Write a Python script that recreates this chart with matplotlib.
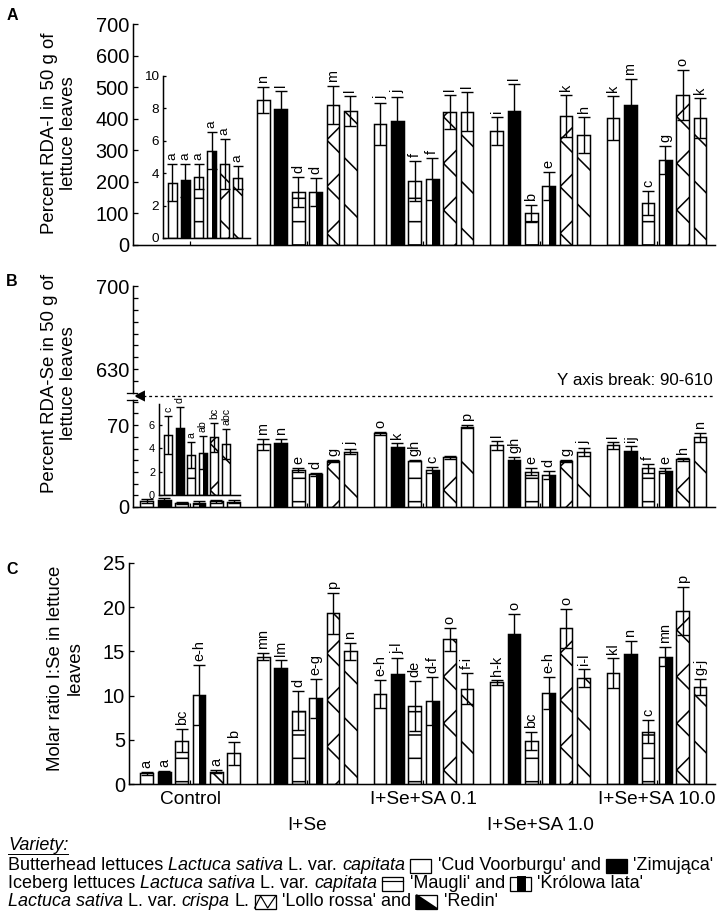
import numpy as np
import matplotlib
matplotlib.use("Agg")
import matplotlib.pyplot as plt
import matplotlib.patches as mpatches
from matplotlib.lines import Line2D

plt.rcParams['font.family'] = ['Liberation Sans', 'DejaVu Sans']
plt.rcParams['hatch.linewidth'] = 0.8

W, H, DPI = 725, 912, 140
P = 72 / DPI  # points per output pixel

treatments = ['Control', 'I+Se', 'I+Se+SA 0.1', 'I+Se+SA 1.0', 'I+Se+SA 10.0']
varieties = ["'Cud Voorburgu'", "'Zimująca'", "'Maugli'", "'Królowa lata'", "'Lollo rossa'", "'Redin'"]

# A: percent RDA-I (rows = treatments, cols = varieties); Control row is shown in the inset
rda_i = [[3.42, 3.55, 3.79, 5.39, 4.57, 3.73],
         [459, 431, 168, 168, 443, 424],
         [383, 392, 202, 208, 422, 422],
         [362, 425, 100, 188, 408, 348],
         [403, 444, 134, 269, 475, 403]]
rda_i_err = [[1.15, 1.02, 0.78, 1.15, 1.53, 0.72],
             [41, 57, 47, 44, 61, 48],
             [67, 77, 63, 66, 53, 62],
             [44, 84, 28, 44, 66, 56],
             [70, 82, 38, 44, 78, 63]]
rda_i_let = [['a', 'a', 'a', 'a', 'a', 'a'],
             ['n', 'l', 'd', 'd', 'm', 'l'],
             ['j', 'j', 'f', 'f', 'l', 'l'],
             ['i', 'l', 'b', 'e', 'k', 'h'],
             ['k', 'm', 'c', 'g', 'o', 'k']]

# B: percent RDA-Se
rda_se = [[5.14, 5.70, 3.43, 3.63, 4.94, 4.34],
          [53.5, 54.6, 31.6, 28.0, 39.3, 47.3],
          [63.0, 51.5, 39.6, 31.6, 42.5, 68.7],
          [52.7, 40.0, 30.2, 27.4, 39.3, 47.3],
          [52.7, 48.1, 33.0, 31.0, 40.7, 59.5]]
rda_se_err = [[1.66, 1.87, 1.14, 1.43, 1.26, 1.29],
              [4.5, 3.6, 1.6, 1.2, 0.8, 2.3],
              [1.4, 3.1, 0.5, 2.4, 1.5, 1.3],
              [4.0, 3.0, 2.8, 3.6, 0.8, 3.4],
              [3.1, 3.9, 3.5, 2.0, 1.3, 4.0]]
rda_se_let = [['c', 'd', 'a', 'ab', 'bc', 'abc'],
              ['m', 'n', 'e', 'd', 'g', 'j'],
              ['o', 'k', 'gh', 'c', '', 'p'],
              ['l', 'gh', 'e', 'd', 'g', 'j'],
              ['l', 'ij', 'f', 'e', 'h', 'n']]

# C: molar ratio I:Se
ratio = [[1.2, 1.4, 4.9, 10.1, 1.4, 3.5],
         [14.4, 13.1, 8.3, 9.7, 19.3, 15.0],
         [10.2, 12.4, 8.8, 9.4, 16.4, 10.8],
         [11.5, 17.0, 4.9, 10.3, 17.6, 12.0],
         [12.6, 14.7, 5.9, 14.4, 19.6, 11.0]]
ratio_err = [[0.15, 0.1, 1.3, 3.4, 0.2, 1.3],
             [0.4, 0.9, 2.2, 2.2, 2.3, 1.0],
             [1.6, 1.9, 2.8, 2.7, 1.3, 1.8],
             [0.3, 2.2, 1.0, 1.8, 2.2, 1.0],
             [1.7, 1.5, 1.3, 1.1, 2.7, 0.9]]
ratio_let = [['a', 'a', 'bc', 'e-h', 'a', 'b'],
             ['mn', 'lm', 'd', 'e-g', 'p', 'n'],
             ['e-h', 'j-l', 'de', 'd-f', 'o', 'f-i'],
             ['h-k', 'o', 'bc', 'e-h', 'o', 'i-l'],
             ['kl', 'n', 'c', 'mn', 'p', 'g-j']]

HATCH = [None, None, '-', None, 'x', '\\']

GAP = 6.7      # group spacing in bar units
UNIT = 17.4    # px per bar unit on the main axes
X0 = 146.8     # px of first bar centre
xs = np.arange(5)[:, None] * GAP + np.arange(6)[None, :]
centers = np.arange(5) * GAP + 2.5

fig = plt.figure(figsize=(W / DPI, H / DPI), dpi=DPI)


def ax_px(left, top, right, bottom):
    return fig.add_axes([left / W, 1 - bottom / H, (right - left) / W, (bottom - top) / H])


def style(ax, tick_px, ylen=5):
    for s in ['top', 'right']:
        ax.spines[s].set_visible(False)
    for s in ['left', 'bottom']:
        ax.spines[s].set_linewidth(1.5 * P)
    ax.set_facecolor('none')
    ax.tick_params(axis='y', which='both', direction='in', length=ylen * P, width=1.3 * P,
                   labelsize=tick_px * P, pad=4 * P)
    ax.tick_params(axis='x', direction='in', length=4 * P, width=1.2 * P)


def draw_bars(ax, x, means, errs, lets, width, cap_px, lab_px, rows):
    means = np.array(means, float)
    errs = np.array(errs, float)
    for j in range(6):
        xx, v, e = x[rows, j], means[rows, j], errs[rows, j]
        ax.bar(xx, v, width, color='black' if j == 1 else 'white', edgecolor='black',
               linewidth=1.5 * P, hatch=HATCH[j], zorder=2)
        if j == 3:
            ax.bar(xx + width / 4, v, width / 2, color='black', edgecolor='black',
                   linewidth=1.0 * P, zorder=2)
        ax.errorbar(xx, v, yerr=e, fmt='none', ecolor='black', elinewidth=1.4 * P,
                    capsize=cap_px * P, capthick=1.4 * P, zorder=3)
        if lets is None:
            continue
        for xi, top, r in zip(xx, v + e, rows):
            lab = lets[r][j]
            if lab:
                ax.annotate(lab, (xi, top), xytext=(0, 4 * P), textcoords='offset points',
                            rotation=90, ha='center', va='bottom', fontsize=lab_px * P)


def main_xlim(ax, left_px, right_px=715):
    ax.set_xlim((left_px - X0) / UNIT, (right_px - X0) / UNIT)
    ax.set_xticks(centers)
    ax.set_xticklabels([])


TICK = 20
all_rows = list(range(5))
treat_rows = [1, 2, 3, 4]

# ---- Panel A
axA = ax_px(133, 24, 715, 245)
style(axA, TICK)
draw_bars(axA, xs, rda_i, rda_i_err, rda_i_let, 0.73, 6.3, 14.5, treat_rows)
axA.set_ylim(0, 700)
axA.set_yticks(range(0, 701, 100))
main_xlim(axA, 133)

insA = ax_px(163, 76, 250, 238)
style(insA, 13.5, ylen=3.5)
xi = np.arange(6)[None, :] * np.ones((5, 1))
draw_bars(insA, xi, rda_i, rda_i_err, rda_i_let, 0.73, 4.7, 13.5, [0])
insA.set_ylim(0, 10)
insA.set_yticks(range(0, 11, 2))
insA.set_xlim(-0.73, 5.96)
insA.set_xticks([])

# ---- Panel B (broken y axis)
lo_top = 91.5
axB = ax_px(133, 400, 715, 507)
style(axB, TICK)
draw_bars(axB, xs, rda_se, rda_se_err, rda_se_let, 0.73, 6.3, 14.5, treat_rows)
draw_bars(axB, xs, rda_se, rda_se_err, None, 0.73, 6.3, 14.5, [0])
axB.set_ylim(0, lo_top)
axB.set_yticks([0, 70])
axB.set_yticks([v for v in range(10, 91, 10) if v != 70], minor=True)
main_xlim(axB, 133)

axB2 = ax_px(133, 286, 715, 393)
style(axB2, TICK)
axB2.spines['bottom'].set_visible(False)
axB2.set_ylim(610, 700)
axB2.set_yticks([630, 700])
axB2.set_yticks([v for v in range(620, 700, 10) if v != 630], minor=True)
axB2.set_xlim(axB.get_xlim())
axB2.set_xticks([])

insB = ax_px(159, 404, 240, 495)
style(insB, 11, ylen=3)
draw_bars(insB, xi, rda_se, rda_se_err, rda_se_let, 0.69, 4.0, 10.5, [0])
insB.set_ylim(0, 7.8)
insB.set_yticks([0, 2, 4, 6])
insB.set_xlim(-0.78, 6.2)
insB.set_xticks([])


def fig_line(xp, yp, **kw):
    fig.add_artist(Line2D([x / W for x in xp], [1 - y / H for y in yp],
                          transform=fig.transFigure, color='black', **kw))


# break marks
fig_line([127, 137], [393, 393], lw=1.3 * P)
fig_line([127, 137], [400, 400], lw=1.3 * P)
fig_line([140], [396.5], marker='<', markersize=8 * P, lw=0)
fig_line([143, 715], [396.5], lw=1.3 * P, ls=(0, (2.2, 2.2)))
fig.text(713 / W, 1 - 380 / H, 'Y axis break: 90-610', ha='right', va='center', fontsize=17 * P)

# ---- Panel C
axC = ax_px(129, 563, 715, 784)
style(axC, TICK)
draw_bars(axC, xs, ratio, ratio_err, ratio_let, 0.73, 6.3, 14.5, all_rows)
axC.set_ylim(0, 25)
axC.set_yticks(range(0, 26, 5))
main_xlim(axC, 129)
axC.set_xticklabels(treatments, fontsize=19 * P)
for k, t in enumerate(axC.xaxis.get_major_ticks()):
    t.set_pad((7 if k % 2 == 0 else 33) * P)

# ---- y labels and panel letters
ylab = 18.6 * P
fig.text(59 / W, 1 - 133 / H, 'Percent RDA-I in 50 g of\nlettuce leaves', rotation=90,
         ha='center', va='center', fontsize=ylab, multialignment='center')
fig.text(59 / W, 1 - 383 / H, 'Percent RDA-Se in 50 g of\nlettuce leaves', rotation=90,
         ha='center', va='center', fontsize=ylab, multialignment='center')
fig.text(65 / W, 1 - 668 / H, 'Molar ratio I:Se in lettuce\nleaves', rotation=90,
         ha='center', va='center', fontsize=ylab, multialignment='center')
for lab, yp in [('A', 15), ('B', 282), ('C', 570)]:
    fig.text(12 / W, 1 - yp / H, lab, fontsize=16 * P, fontweight='bold', ha='center', va='center')

# ---- legend
LEG = 18.0
renderer = fig.canvas.get_renderer()
ICON_W, ICON_H = 21, 14


def icon(x, yc, j):
    t, b = yc - ICON_H / 2, yc + ICON_H / 2
    rect = mpatches.Rectangle((x / W, 1 - b / H), ICON_W / W, ICON_H / H, transform=fig.transFigure,
                              facecolor='black' if j == 1 else 'white', edgecolor='black',
                              lw=1.3 * P, zorder=3)
    fig.add_artist(rect)
    if j == 2:
        fig_line([x, x + ICON_W], [t + 3.5, t + 3.5], lw=1.2 * P, zorder=4)
    if j == 3:
        fig.add_artist(mpatches.Rectangle(((x + 8) / W, 1 - b / H), 7 / W, ICON_H / H,
                                          transform=fig.transFigure, color='black', zorder=4))
    if j == 4:
        fig_line([x, x + 6, x + 13, x + ICON_W], [b - 1, t + 1, b - 1, t + 1], lw=1.2 * P, zorder=4)
    if j == 5:
        tri = [(x / W, 1 - b / H), (x / W, 1 - t / H), ((x + ICON_W) / W, 1 - b / H)]
        fig.add_artist(mpatches.Polygon(tri, closed=True, transform=fig.transFigure,
                                        color='black', zorder=4))


def legend_row(yc, pieces):
    x = 8
    sp = 0.278 * LEG
    for kind, content in pieces:
        if kind == 'icon':
            icon(x, yc, content)
            x += ICON_W + sp * 1.3
        else:
            t = fig.text(x / W, 1 - yc / H, content, fontsize=LEG * P, va='center', ha='left',
                         style='italic' if kind == 'i' else 'normal')
            x += t.get_window_extent(renderer).width + sp


vt = fig.text(8 / W, 1 - 846 / H, 'Variety:', fontsize=LEG * P, va='center', ha='left', style='italic')
bb = vt.get_window_extent(renderer)
fig.add_artist(Line2D([bb.x0 / W, bb.x1 / W], [(bb.y0 + 1) / H] * 2, transform=fig.transFigure,
                      color='black', lw=1.0 * P))

legend_row(866, [('n', 'Butterhead lettuces'), ('i', 'Lactuca sativa'), ('n', 'L. var.'),
                 ('i', 'capitata'), ('icon', 0), ('n', varieties[0] + ' and'), ('icon', 1),
                 ('n', varieties[1])])
legend_row(884, [('n', 'Iceberg lettuces'), ('i', 'Lactuca sativa'), ('n', 'L. var.'),
                 ('i', 'capitata'), ('icon', 2), ('n', varieties[2] + ' and'), ('icon', 3),
                 ('n', varieties[3])])
legend_row(902, [('i', 'Lactuca sativa'), ('n', 'L. var.'), ('i', 'crispa'), ('n', 'L.'),
                 ('icon', 4), ('n', varieties[4] + ' and'), ('icon', 5), ('n', varieties[5])])

fig.savefig('out.png', dpi=DPI)
